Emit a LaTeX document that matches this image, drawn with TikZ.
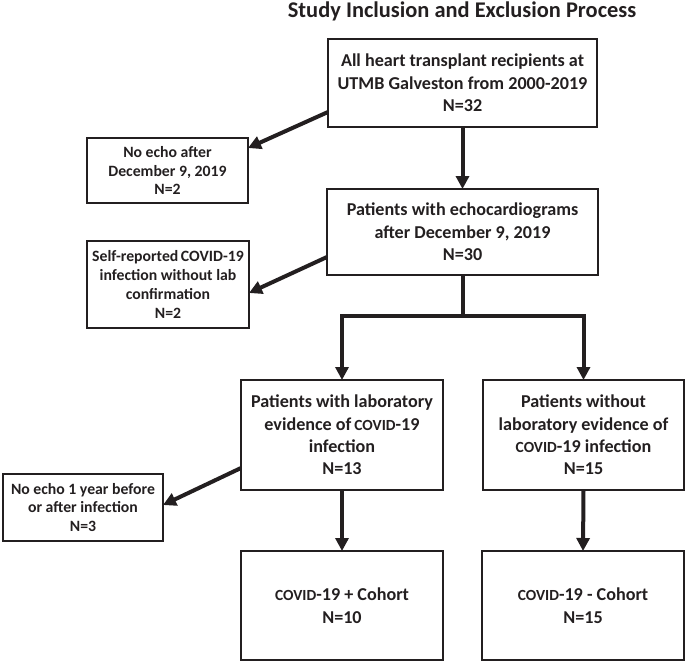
\documentclass[tikz,border=0pt]{standalone}
\usepackage{fontspec}
\setmainfont{Carlito}
\usetikzlibrary{arrows.meta}
\definecolor{ink}{HTML}{231F20}
\newcommand\cvd{{\fontsize{15.5}{15.5}\selectfont COVID}}
\tikzset{
  box/.style={draw=ink, line width=2.5bp, inner sep=0pt, outer sep=0pt, align=center,
    text=ink, font=\fontsize{18.2}{22.5}\selectfont\bfseries},
  sbox/.style={box, font=\fontsize{15.8}{19}\selectfont\bfseries},
  arr/.style={draw=ink, line width=4bp, -{Triangle[width=13bp,length=13bp]}},
  seg/.style={draw=ink, line width=4bp, line join=miter}
}
\begin{document}
\begin{tikzpicture}[x=1bp,y=-1bp]
\useasboundingbox (0,0) rectangle (685,661);
\node[text=ink, font=\fontsize{22.5}{26}\selectfont\bfseries, anchor=base] (T) at (462,17.5) {Study Inclusion and Exclusion Process};
\node[box, minimum width=269bp, minimum height=88bp] (A) at (462.5,83) {All heart transplant recipients at\\UTMB Galveston from 2000-2019\\N=32};
\node[sbox, minimum width=161bp, minimum height=65bp] (B) at (167.5,170.5) {No echo after\\December 9, 2019\\N=2};
\node[box, minimum width=271bp, minimum height=86bp] (C) at (462.5,232) {Patients with echocardiograms\\after December 9, 2019\\N=30};
\node[sbox, minimum width=162bp, minimum height=87bp] (D) at (168,284.5) {Self-reported\,COVID-19\\infection without lab\\confirmation\\N=2};
\node[box, minimum width=202bp, minimum height=110bp] (E) at (342,435) {Patients with laboratory\\evidence of\,\cvd-19\\infection\\N=13};
\node[box, minimum width=201bp, minimum height=110bp] (F) at (583.5,435) {Patients without\\laboratory evidence of\\\cvd-19 infection\\N=15};
\node[sbox, minimum width=160bp, minimum height=67bp] (G) at (83,507.5) {No echo 1 year before\\or after infection\\N=3};
\node[box, minimum width=202bp, minimum height=109bp] (H) at (342,605.5) {\cvd-19 + Cohort\\N=10};
\node[box, minimum width=202bp, minimum height=109bp] (I) at (583,605.5) {\cvd-19 - Cohort\\N=15};
\coordinate (S) at (462.5,316);
\draw[arr] ([yshift=-29bp]A.west) -- ([yshift=22.5bp]B.east);
\draw[arr] (A.south) -- (C.north);
\draw[arr] ([yshift=-25bp]C.west) -- ([yshift=-8.5bp]D.east);
\draw[seg] (C.south) -- (S);
\draw[arr, line join=miter] (S) -| (E.north);
\draw[arr, line join=miter] (S) -| (F.north);
\draw[arr] ([yshift=-33bp]E.west) -- ([yshift=2.5bp]G.east);
\draw[arr] (E.south) -- (H.north);
\draw[arr] (F.south) -- (I.north);
\end{tikzpicture}
\end{document}
